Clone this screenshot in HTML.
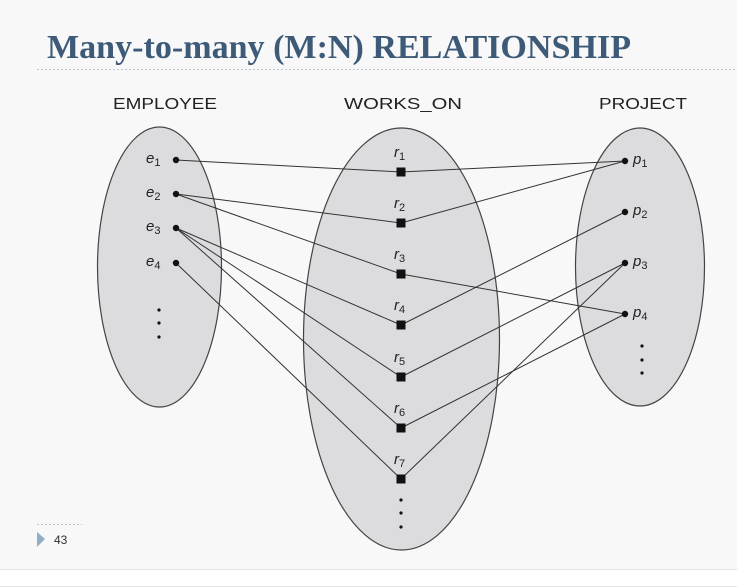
<!DOCTYPE html>
<html><head><meta charset="utf-8"><style>
html,body{margin:0;padding:0;width:737px;height:587px;overflow:hidden;background:#fff}
</style></head><body>
<svg width="737" height="587" viewBox="0 0 737 587" xmlns="http://www.w3.org/2000/svg" font-family="Liberation Sans, sans-serif">
<rect x="0" y="0" width="737" height="569" fill="#f8f8f8"/>
<line x1="0" y1="569.5" x2="737" y2="569.5" stroke="#e6e6e6"/>
<line x1="0" y1="586.5" x2="737" y2="586.5" stroke="#e6e6e6"/>
<text x="47" y="58" font-family="Liberation Serif, serif" font-weight="bold" font-size="34" fill="#3d5a78" textLength="584" lengthAdjust="spacingAndGlyphs">Many-to-many (M:N) RELATIONSHIP</text>
<line x1="37" y1="69.5" x2="737" y2="69.5" stroke="#b9c6d6" stroke-dasharray="2,2"/>
<line x1="37" y1="524.5" x2="82" y2="524.5" stroke="#b9c6d6" stroke-dasharray="2,2"/>
<polygon points="37,532 45,539 37,547" fill="#8faec8"/>
<text x="54" y="544" font-size="12" fill="#333">43</text>
<g font-size="16" fill="#222">
<text x="113" y="109" textLength="104" lengthAdjust="spacingAndGlyphs">EMPLOYEE</text>
<text x="344" y="109" textLength="118" lengthAdjust="spacingAndGlyphs">WORKS_ON</text>
<text x="599" y="109" textLength="88" lengthAdjust="spacingAndGlyphs">PROJECT</text>
</g>
<g fill="#dcdcdf" stroke="#444" stroke-width="1.2">
<ellipse cx="159.5" cy="267" rx="62" ry="140"/>
<ellipse cx="401.5" cy="339" rx="98" ry="211"/>
<ellipse cx="640" cy="267" rx="64.5" ry="139"/>
</g>
<g stroke="#333" stroke-width="1">
<line x1="176" y1="160" x2="401" y2="172"/>
<line x1="176" y1="194" x2="401" y2="223"/>
<line x1="176" y1="194" x2="401" y2="274"/>
<line x1="176" y1="228" x2="401" y2="325"/>
<line x1="176" y1="228" x2="401" y2="377"/>
<line x1="176" y1="228" x2="401" y2="428"/>
<line x1="176" y1="263" x2="401" y2="479"/>
<line x1="401" y1="172" x2="625" y2="161"/>
<line x1="401" y1="223" x2="625" y2="161"/>
<line x1="401" y1="274" x2="625" y2="314"/>
<line x1="401" y1="325" x2="625" y2="212"/>
<line x1="401" y1="377" x2="625" y2="263"/>
<line x1="401" y1="428" x2="625" y2="314"/>
<line x1="401" y1="479" x2="625" y2="263"/>
</g>
<g fill="#111">
<circle cx="176" cy="160" r="3.2"/><circle cx="176" cy="194" r="3.2"/><circle cx="176" cy="228" r="3.2"/><circle cx="176" cy="263" r="3.2"/>
<circle cx="159" cy="310" r="1.6"/><circle cx="159" cy="323" r="1.6"/><circle cx="159" cy="337" r="1.6"/>
<circle cx="625" cy="161" r="3.2"/><circle cx="625" cy="212" r="3.2"/><circle cx="625" cy="263" r="3.2"/><circle cx="625" cy="314" r="3.2"/>
<circle cx="642" cy="346" r="1.6"/><circle cx="642" cy="360" r="1.6"/><circle cx="642" cy="373" r="1.6"/>
<circle cx="401" cy="500" r="1.6"/><circle cx="401" cy="513" r="1.6"/><circle cx="401" cy="527" r="1.6"/>
<rect x="396.5" y="167.5" width="9" height="9"/><rect x="396.5" y="218.5" width="9" height="9"/><rect x="396.5" y="269.5" width="9" height="9"/><rect x="396.5" y="320.5" width="9" height="9"/><rect x="396.5" y="372.5" width="9" height="9"/><rect x="396.5" y="423.5" width="9" height="9"/><rect x="396.5" y="474.5" width="9" height="9"/>
</g>
<g font-size="15" fill="#222" font-style="italic">
<text x="146" y="163">e<tspan font-size="11" font-style="normal" dy="3">1</tspan></text>
<text x="146" y="197">e<tspan font-size="11" font-style="normal" dy="3">2</tspan></text>
<text x="146" y="231">e<tspan font-size="11" font-style="normal" dy="3">3</tspan></text>
<text x="146" y="266">e<tspan font-size="11" font-style="normal" dy="3">4</tspan></text>
<text x="633" y="164">p<tspan font-size="11" font-style="normal" dy="3">1</tspan></text>
<text x="633" y="215">p<tspan font-size="11" font-style="normal" dy="3">2</tspan></text>
<text x="633" y="266">p<tspan font-size="11" font-style="normal" dy="3">3</tspan></text>
<text x="633" y="317">p<tspan font-size="11" font-style="normal" dy="3">4</tspan></text>
<text x="394" y="157">r<tspan font-size="11" font-style="normal" dy="3">1</tspan></text>
<text x="394" y="208">r<tspan font-size="11" font-style="normal" dy="3">2</tspan></text>
<text x="394" y="259">r<tspan font-size="11" font-style="normal" dy="3">3</tspan></text>
<text x="394" y="310">r<tspan font-size="11" font-style="normal" dy="3">4</tspan></text>
<text x="394" y="362">r<tspan font-size="11" font-style="normal" dy="3">5</tspan></text>
<text x="394" y="413">r<tspan font-size="11" font-style="normal" dy="3">6</tspan></text>
<text x="394" y="464">r<tspan font-size="11" font-style="normal" dy="3">7</tspan></text>
</g>
</svg>
</body></html>
